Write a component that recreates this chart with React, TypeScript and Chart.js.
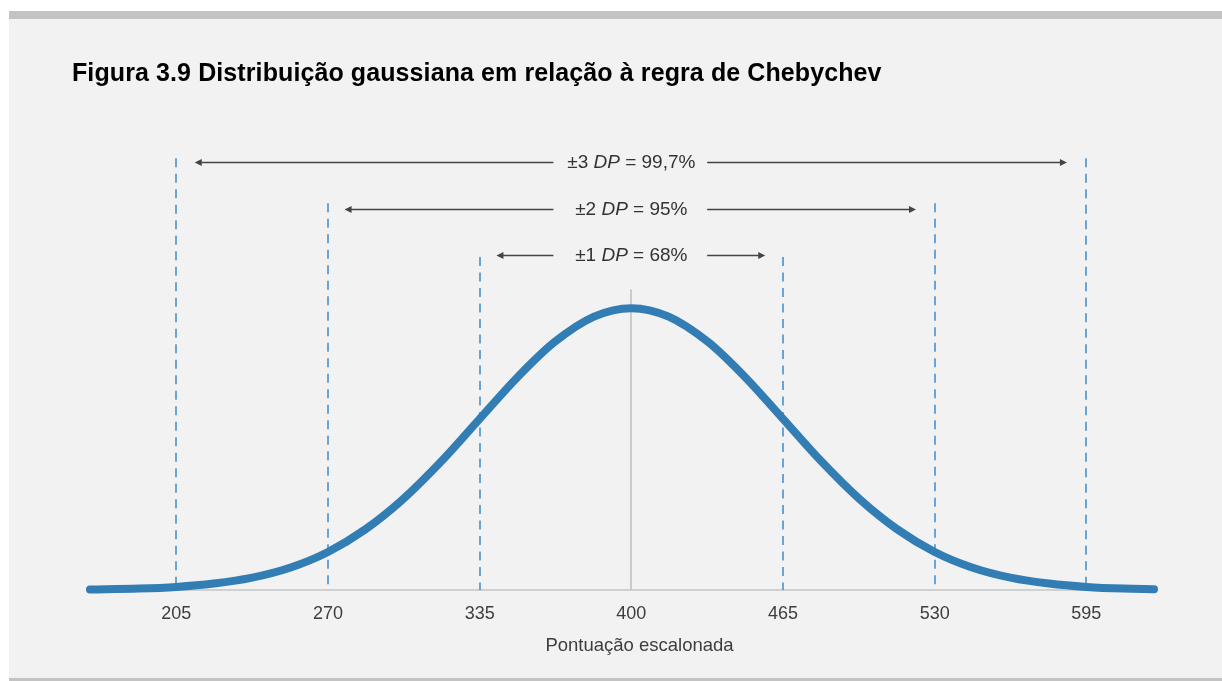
import React, { useEffect, useRef } from "react";
import { Chart, registerables } from "chart.js";

Chart.register(...registerables);

// ---- data ----
const titleText = "Figura 3.9 Distribuição gaussiana em relação à regra de Chebychev";
const xAxisTitle = "Pontuação escalonada";

const scoreValues = [168, 189, 205, 221, 237, 254, 270, 286, 302, 319, 335, 351, 367, 384, 400, 416, 433, 449, 465, 481, 498, 514, 530, 546, 563, 579, 595, 611, 624];
const curveHeights = [0.2, 0.5, 1.1, 2.3, 4.3, 8.0, 13.5, 21.5, 32.1, 46.0, 60.7, 75.3, 87.9, 97.0, 100, 97.0, 87.9, 75.3, 60.7, 46.0, 32.1, 21.5, 13.5, 8.0, 4.3, 2.3, 1.1, 0.5, 0.3];

const tickValues = [205, 270, 335, 400, 465, 530, 595];
const meanValue = 400;
const meanLineTop = 106.7;
const axisTitleCenter = 403.5;

// dashed standard-deviation markers (left, right, top height)
const sdLeft = [205, 270, 335];
const sdRight = [595, 530, 465];
const sdLineTops = [153.2, 137.2, 118.1];

// arrow annotations
const ruleLabels = ["±3", "±2", "±1"];
const rulePercents = ["99,7%", "95%", "68%"];
const arrowLevels = [151.8, 135.3, 118.8];
const arrowLeftTips = [212.9, 277.1, 342.2];
const arrowRightTips = [586.7, 522.0, 457.4];
const arrowInnerLeft = 366.6;
const arrowInnerRight = 432.5;

const FONT = "'Liberation Sans', Arial, Helvetica, sans-serif";

const annotationPlugin = {
  id: "chebyAnnotations",
  beforeDatasetsDraw(chart: any) {
    const { ctx, scales } = chart;
    const xs = scales.x;
    const ys = scales.y;
    const base = ys.getPixelForValue(0);
    ctx.save();
    // mean line
    ctx.strokeStyle = "#cbcbcb";
    ctx.lineWidth = 2;
    const mx = Math.round(xs.getPixelForValue(meanValue));
    ctx.beginPath();
    ctx.moveTo(mx, ys.getPixelForValue(meanLineTop));
    ctx.lineTo(mx, base);
    ctx.stroke();
    // dashed sd lines
    ctx.strokeStyle = "#3a8ad0";
    ctx.lineWidth = 1.5;
    ctx.setLineDash([9, 6.5]);
    for (let i = 0; i < sdLeft.length; i++) {
      for (const v of [sdLeft[i], sdRight[i]]) {
        const px = Math.round(xs.getPixelForValue(v));
        ctx.beginPath();
        ctx.moveTo(px, ys.getPixelForValue(sdLineTops[i]));
        ctx.lineTo(px, base);
        ctx.stroke();
      }
    }
    ctx.restore();
  },
  afterDatasetsDraw(chart: any) {
    const { ctx, scales } = chart;
    const xs = scales.x;
    const ys = scales.y;
    ctx.save();
    const col = "#444444";
    for (let i = 0; i < ruleLabels.length; i++) {
      const y = Math.round(ys.getPixelForValue(arrowLevels[i])) + 0.5;
      const lt = xs.getPixelForValue(arrowLeftTips[i]);
      const rt = xs.getPixelForValue(arrowRightTips[i]);
      const li = xs.getPixelForValue(arrowInnerLeft);
      const ri = xs.getPixelForValue(arrowInnerRight);
      ctx.strokeStyle = col;
      ctx.fillStyle = col;
      ctx.lineWidth = 1.3;
      ctx.setLineDash([]);
      ctx.beginPath();
      ctx.moveTo(li, y);
      ctx.lineTo(lt + 4, y);
      ctx.moveTo(ri, y);
      ctx.lineTo(rt - 4, y);
      ctx.stroke();
      // heads
      ctx.beginPath();
      ctx.moveTo(lt, y);
      ctx.lineTo(lt + 7, y - 3.5);
      ctx.lineTo(lt + 7, y + 3.5);
      ctx.closePath();
      ctx.fill();
      ctx.beginPath();
      ctx.moveTo(rt, y);
      ctx.lineTo(rt - 7, y - 3.5);
      ctx.lineTo(rt - 7, y + 3.5);
      ctx.closePath();
      ctx.fill();
      // label
      const parts = [
        { t: ruleLabels[i] + " ", f: `19px ${FONT}` },
        { t: "DP", f: `italic 19px ${FONT}` },
        { t: " = " + rulePercents[i], f: `19px ${FONT}` },
      ];
      let total = 0;
      for (const p of parts) {
        ctx.font = p.f;
        total += ctx.measureText(p.t).width;
      }
      let x = xs.getPixelForValue(meanValue) - total / 2;
      ctx.fillStyle = "#333333";
      ctx.textBaseline = "middle";
      ctx.textAlign = "left";
      for (const p of parts) {
        ctx.font = p.f;
        ctx.fillText(p.t, x, y);
        x += ctx.measureText(p.t).width;
      }
    }
    // axis title
    ctx.font = `18.5px ${FONT}`;
    ctx.fillStyle = "#3d3d3d";
    ctx.textAlign = "center";
    ctx.textBaseline = "middle";
    ctx.fillText(xAxisTitle, xs.getPixelForValue(axisTitleCenter), xs.bottom - 31.5);
    ctx.restore();
  },
};

export default function App() {
  const canvasRef = useRef<HTMLCanvasElement | null>(null);

  useEffect(() => {
    if (!canvasRef.current) return;
    const chart = new Chart(canvasRef.current, {
      type: "line",
      data: {
        datasets: [
          {
            data: scoreValues.map((x, i) => ({ x, y: curveHeights[i] })),
            borderColor: "#327db3",
            borderWidth: 8,
            pointRadius: 0,
            cubicInterpolationMode: "monotone",
            borderCapStyle: "round",
            borderJoinStyle: "round",
            fill: false,
            clip: false as any,
          },
        ],
      },
      options: {
        responsive: false,
        animation: false,
        devicePixelRatio: 1,
        layout: { padding: { left: 81, right: 68, top: 120, bottom: 0 } },
        plugins: {
          legend: { display: false },
          tooltip: { enabled: false },
          title: { display: false },
        },
        scales: {
          x: {
            type: "linear",
            min: scoreValues[0],
            max: scoreValues[scoreValues.length - 1],
            grid: { display: false, drawTicks: false },
            border: { display: true, color: "#d0d0d0", width: 2 },
            afterBuildTicks: (scale: any) => {
              scale.ticks = tickValues.map((v) => ({ value: v }));
            },
            afterFit: (scale: any) => {
              scale.height = 87;
            },
            ticks: {
              autoSkip: false,
              maxRotation: 0,
              padding: 13,
              color: "#3d3d3d",
              font: { family: FONT, size: 18 },
              callback: (v: any) => String(v),
            },
            title: { display: false },
          },
          y: {
            display: false,
            min: 0,
            max: 160,
          },
        },
      },
      plugins: [annotationPlugin],
    });
    return () => chart.destroy();
  }, []);

  return (
    <div style={{ position: "absolute", left: 0, top: 0, width: 1222, height: 681, background: "#ffffff", overflow: "hidden" }}>
      <div style={{ position: "absolute", left: 9, top: 11, width: 1213, height: 8, background: "#c3c3c3" }} />
      <div style={{ position: "absolute", left: 9, top: 19, width: 1213, height: 659, background: "#f2f2f2" }}>
        <canvas ref={canvasRef} width={1213} height={658} style={{ position: "absolute", left: 0, top: 0, display: "block" }} />
      </div>
      <div style={{ position: "absolute", left: 9, top: 678, width: 1213, height: 3, background: "#c3c3c3" }} />
      <div
        style={{
          position: "absolute",
          left: 72,
          top: 60,
          fontFamily: FONT,
          fontWeight: "bold",
          fontSize: 25,
          lineHeight: "25px",
          letterSpacing: "0.1px",
          color: "#000",
          whiteSpace: "nowrap",
        }}
      >
        {titleText}
      </div>
    </div>
  );
}
